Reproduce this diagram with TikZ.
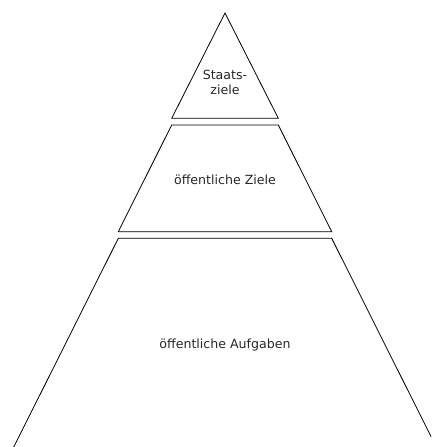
\documentclass[tikz,border=0pt]{standalone}
\usepackage{fontspec}
\setmainfont{DejaVu Sans}
\begin{document}
\begin{tikzpicture}[x=1pt,y=-1pt,
  level/.style={draw=black,line width=0.8pt,line join=miter},
  lbl/.style={font=\fontsize{12.6}{15}\selectfont,align=center,inner sep=0pt,text=black!85}]
\useasboundingbox (0,0) rectangle (431,447);
\clip (0,0) rectangle (431,447);
% top triangle
\draw[level] (225,13) -- (278.3,118.3) -- (171.7,118.3) -- cycle;
% middle trapezoid
\draw[level] (171.7,125) -- (278.3,125) -- (331.7,231.7) -- (118.3,231.7) -- cycle;
% bottom trapezoid
\draw[level] (13.5,447.5) -- (118.3,238.3) -- (331.7,238.3) -- (436.5,447.5);
\node[lbl] (staat) at (225,82) {Staats-\\ziele};
\node[lbl] (ziele) at (225,180) {öffentliche Ziele};
\node[lbl] (aufg) at (225,345) {öffentliche Aufgaben};
\end{tikzpicture}
\end{document}
